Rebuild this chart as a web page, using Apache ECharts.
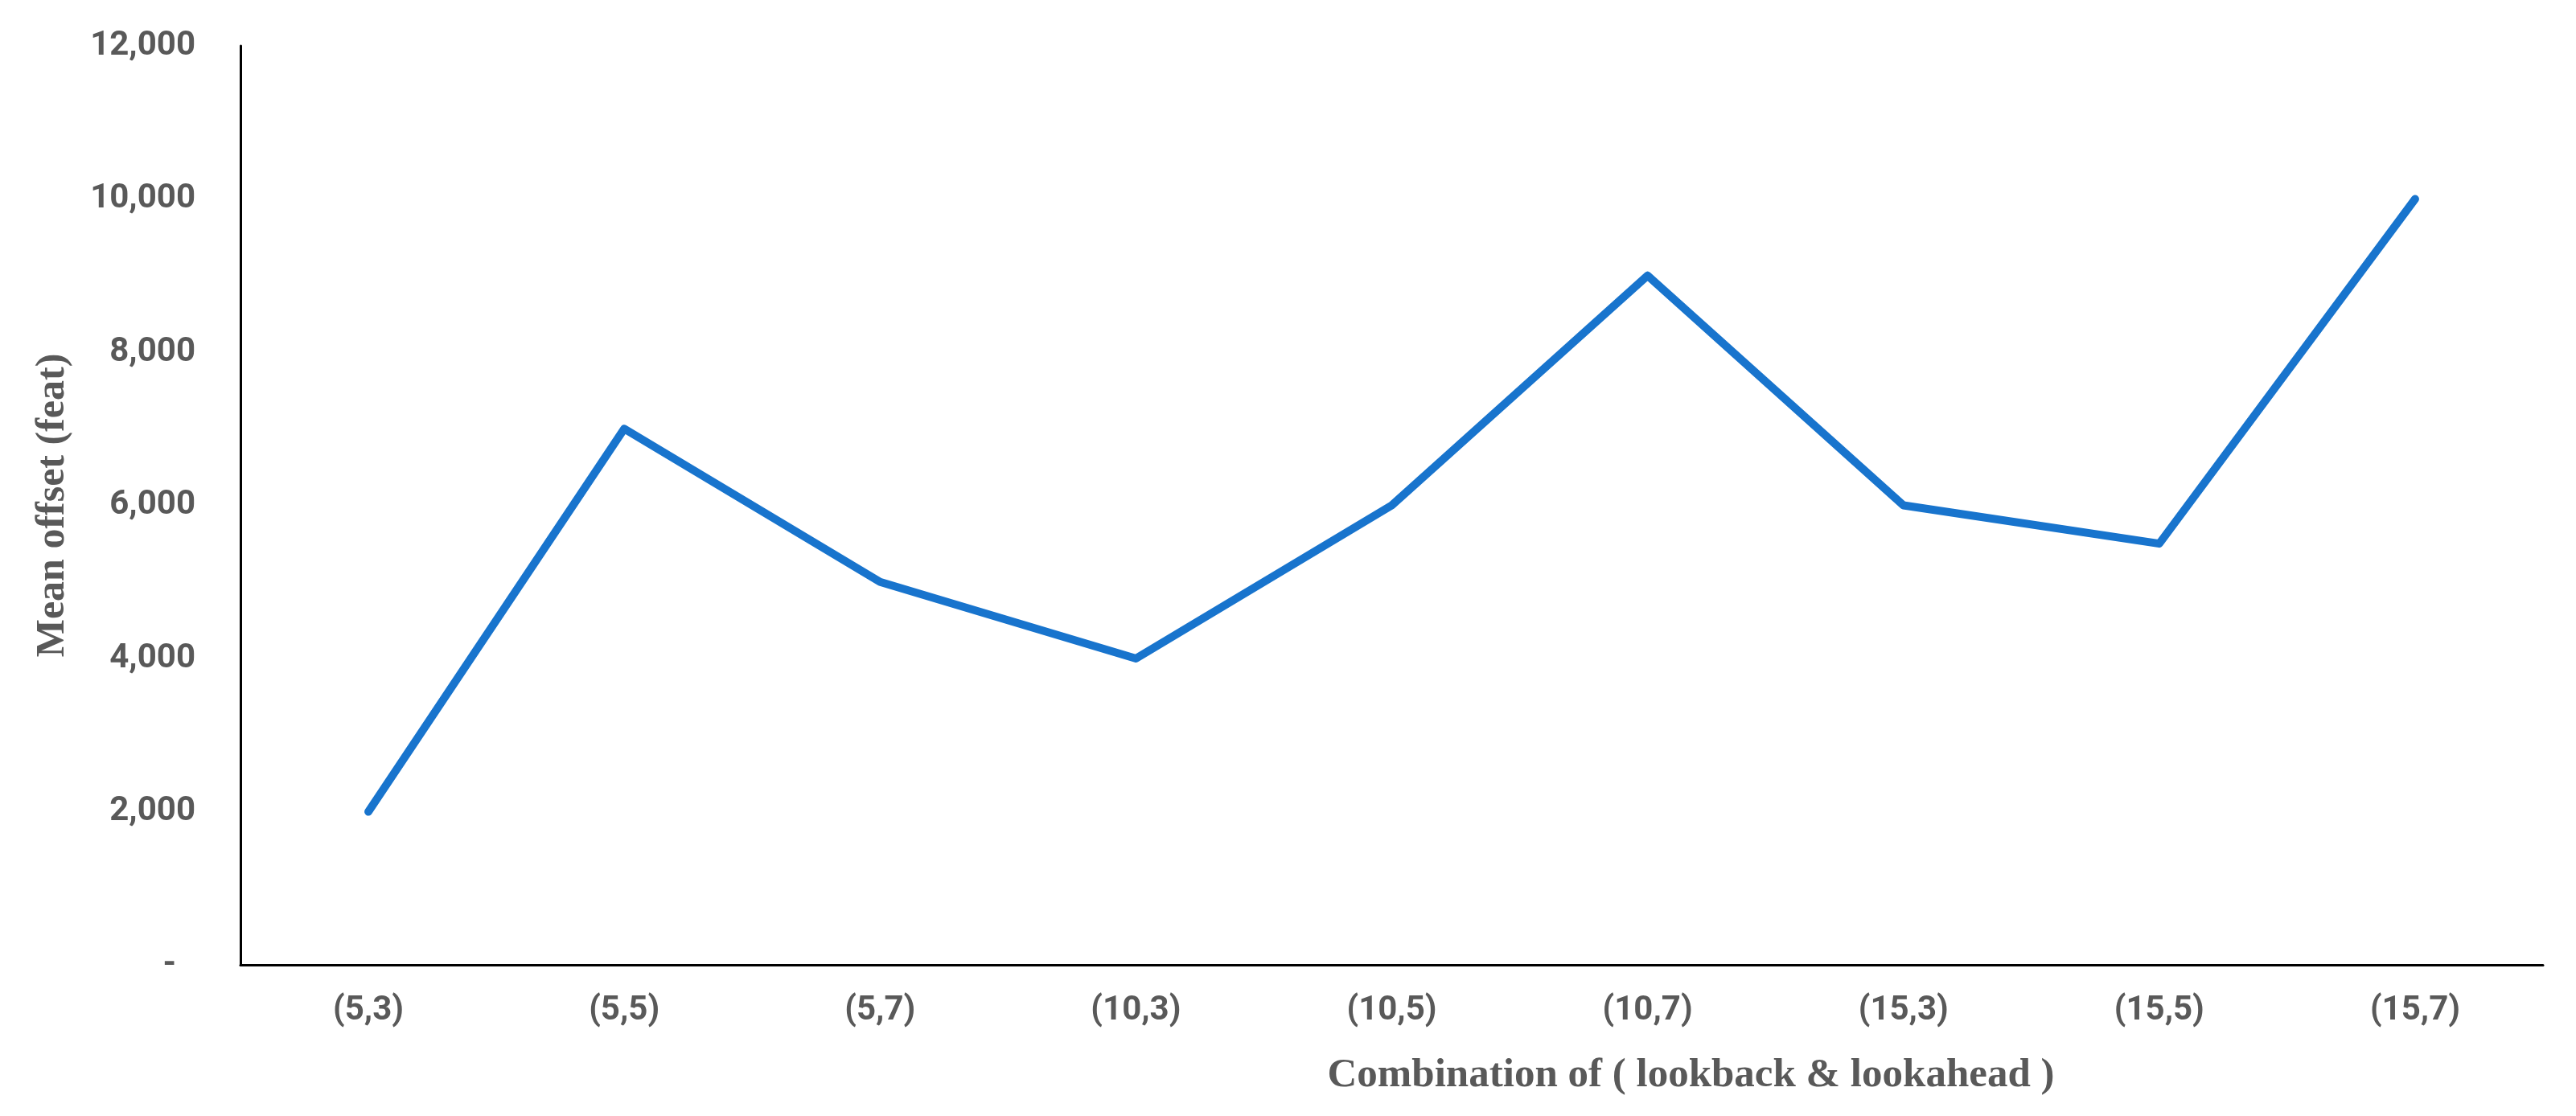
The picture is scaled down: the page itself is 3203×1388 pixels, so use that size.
<!DOCTYPE html>
<html>
<head>
<meta charset="utf-8">
<title>Mean offset by lookback / lookahead</title>
<script src="https://cdn.jsdelivr.net/npm/echarts@6/dist/echarts.min.js"></script>
<style>
  html, body { margin: 0; padding: 0; background: #fff; }
  #chart { width: 3203px; height: 1388px; }
</style>
</head>
<body>
<div id="chart"></div>
<script>
const categories = ['(5,3)', '(5,5)', '(5,7)', '(10,3)', '(10,5)', '(10,7)', '(15,3)', '(15,5)', '(15,7)']
const meanOffset = [2000, 7000, 5000, 4000, 6000, 9000, 6000, 5500, 10000]
const yTicks = [0, 2000, 4000, 6000, 8000, 10000, 12000]

const labelColor = '#595959'
const chart = echarts.init(document.getElementById('chart'))

const option = {
  animation: false,
  grid: {
    left: 299,
    right: 41,
    top: 57,
    bottom: 188,
    containLabel: false
  },
  xAxis: {
    type: 'category',
    data: categories,
    boundaryGap: true,
    axisLine: { lineStyle: { color: '#000', width: 3 } },
    axisTick: { show: false },
    axisLabel: {
      color: labelColor,
      fontFamily: 'Roboto',
      fontWeight: 'bold',
      fontSize: 42,
      margin: 36
    },
    name: 'Combination of ( lookback & lookahead )',
    nameLocation: 'middle',
    nameGap: 112,
    nameTextStyle: {
      color: labelColor,
      fontFamily: 'Liberation Serif',
      fontWeight: 'bold',
      fontSize: 51,
      padding: [0, 0, 0, 744]
    }
  },
  yAxis: {
    type: 'value',
    min: yTicks[0],
    max: yTicks[yTicks.length - 1],
    interval: 2000,
    axisLine: { show: true, lineStyle: { color: '#000', width: 3 } },
    axisTick: { show: false },
    splitLine: { show: false },
    axisLabel: {
      color: labelColor,
      fontFamily: 'Roboto',
      fontWeight: 'bold',
      fontSize: 42,
      margin: 56,
      formatter: v => v === 0 ? '{d|-}' : v.toLocaleString('en-US'),
      rich: {
        d: { color: labelColor, fontFamily: 'Roboto', fontWeight: 'bold', fontSize: 42, padding: [0, 24, 0, 0] }
      }
    },
    name: 'Mean offset (feat)',
    nameLocation: 'middle',
    nameGap: 208,
    nameTextStyle: {
      color: labelColor,
      fontFamily: 'Liberation Serif',
      fontWeight: 'bold',
      fontSize: 50
    }
  },
  series: [
    {
      name: 'Mean offset',
      type: 'line',
      data: meanOffset,
      symbol: 'none',
      lineStyle: { color: '#1874CD', width: 10, cap: 'round', join: 'round' }
    }
  ]
}

chart.setOption(option)
window.addEventListener('resize', () => chart.resize())
</script>
</body>
</html>
